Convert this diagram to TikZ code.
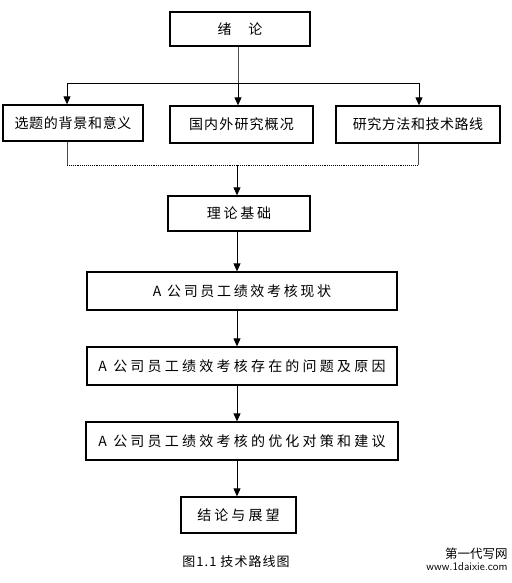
\documentclass[tikz,border=0pt]{standalone}
\usepackage{fontspec}
\setmainfont{Liberation Serif}
\newfontfamily\cjk{Noto Sans CJK SC}
\usetikzlibrary{arrows.meta}
\newcommand{\lspc}[1]{\addfontfeature{LetterSpace=#1}}
\begin{document}
\begin{tikzpicture}[x=1pt,y=-1pt,
  box/.style={draw, line width=1.3pt, inner sep=0pt, font=\cjk\fontsize{14}{16}\selectfont},
  arr/.style={line width=0.9pt, -{Triangle[length=8pt,width=7pt]}},
  ln/.style={line width=0.7pt, draw=black!70},
  dln/.style={line width=0.9pt, densely dotted}]
\useasboundingbox (0,0) rectangle (511,583);
\node[box, minimum width=140, minimum height=34] (xl) at (240,29) {绪\hspace{1.2em}论};
\node[box, minimum width=140, minimum height=36] (b1) at (73,123) {\lspc{5}选题的背景和意义};
\node[box, minimum width=143, minimum height=37] (b2) at (241.5,124.5) {\lspc{8}国内外研究概况};
\node[box, minimum width=164, minimum height=37] (b3) at (418,124.5) {\lspc{4}研究方法和技术路线};
\node[box, minimum width=142, minimum height=35] (ll) at (239,213.5) {\lspc{20}理论基础};
\node[box, minimum width=310, minimum height=38] (xz) at (242,291) {\lspc{19}A 公司员工绩效考核现状};
\node[box, minimum width=310, minimum height=38] (wt) at (242,366) {\lspc{23}A 公司员工绩效考核存在的问题及原因\hspace{9pt}};
\node[box, minimum width=312, minimum height=38] (yh) at (242,441) {\lspc{23}A 公司员工绩效考核的优化对策和建议\hspace{9pt}};
\node[box, minimum width=115, minimum height=36] (jl) at (238.5,515) {\lspc{22}结论与展望};
\node[font=\cjk\fontsize{13}{15}\selectfont] (cap) at (236,562) {\lspc{8}图1.1 技术路线图};
\node[font=\cjk\fontsize{12.5}{13}\selectfont, align=right, inner sep=0pt] (wm) at (467,559) {第一代写网\\[-1pt]{\sffamily\fontsize{11.5}{12}\selectfont www.1daixie.com}};
% top split
\coordinate (tm) at (238,83);
\coordinate (tl) at (67,83);
\coordinate (tr) at (419,83);
\draw[ln] (xl.south -| tm) -- (tm);
\draw[line width=0.9pt] (tl) -- (tr);
\draw[arr] (tl) -- (tl |- b1.north);
\draw[arr] (tm) -- (tm |- b2.north);
\draw[arr] (tr) -- (tr |- b3.north);
% bottom merge
\coordinate (bl) at (67,165);
\coordinate (br) at (418,165);
\coordinate (bm) at (237,165);
\draw[ln] (bl |- b1.south) -- (bl);
\draw[ln] (br |- b3.south) -- (br);
\draw[dln] (bl) -- (br);
\draw[arr] (bm) -- (bm |- ll.north);
% chain
\draw[arr] (ll.south -| bm) -- (bm |- xz.north);
\draw[arr] (xz.south -| bm) -- (bm |- wt.north);
\draw[arr] (wt.south -| bm) -- (bm |- yh.north);
\draw[arr] (yh.south -| bm) -- (bm |- jl.north);
\end{tikzpicture}
\end{document}
